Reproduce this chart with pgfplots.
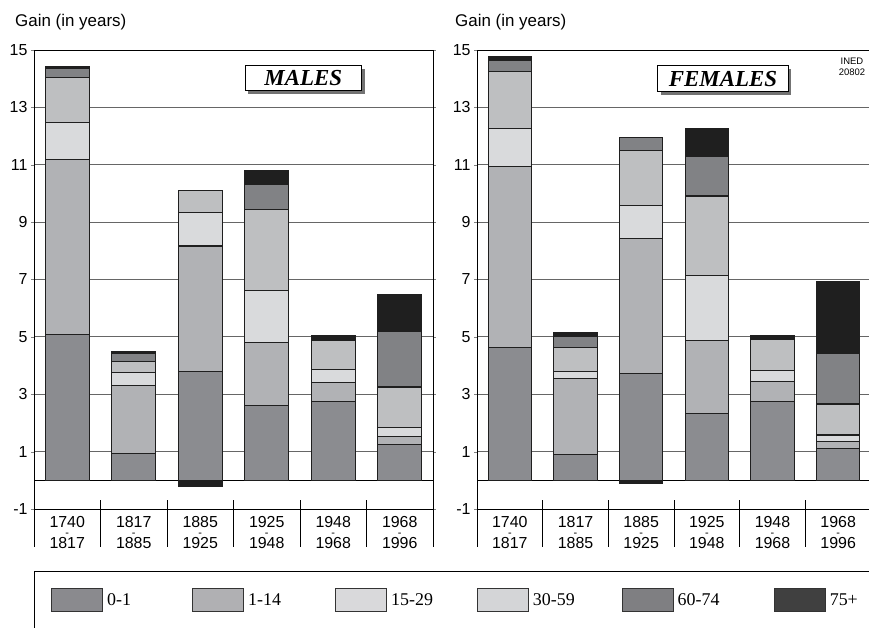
\documentclass[border=0pt]{standalone}
\usepackage{pgfplots}
\pgfplotsset{compat=1.18}
\usepackage{fontspec}
\setmainfont{Liberation Sans}
\newfontfamily\timesf{Liberation Serif}

% bar fills
\definecolor{cA}{HTML}{8B8C90}
\definecolor{cB}{HTML}{B1B2B5}
\definecolor{cC}{HTML}{D9DADC}
\definecolor{cD}{HTML}{BEBFC1}
\definecolor{cE}{HTML}{818285}
\definecolor{cF}{HTML}{1F1F1F}
% legend fills
\definecolor{lA}{HTML}{8A8A8E}
\definecolor{lB}{HTML}{B0B0B3}
\definecolor{lC}{HTML}{D9D9DB}
\definecolor{lD}{HTML}{D4D5D7}
\definecolor{lE}{HTML}{7F7F82}
\definecolor{lF}{HTML}{404040}

\newcommand\yr[1]{\ooalign{\hfil\raisebox{12.5bp}{\fontsize{11}{11}\selectfont -}\hfil\cr#1\cr}}

\pgfplotsset{
  gainaxis/.style={
    scale only axis, height=459bp, anchor=south west,
    xmin=-0.5, xmax=5.5, ymin=-1, ymax=15,
    xtick={0,...,5},
    xticklabels={{1740\\\yr{1817}},{1817\\\yr{1885}},{1885\\\yr{1925}},
                 {1925\\\yr{1948}},{1948\\\yr{1968}},{1968\\\yr{1996}}},
    x tick style={draw=none},
    xticklabel style={align=center, font=\fontsize{16}{21}\selectfont, yshift=-1bp},
    ytick={-1,1,...,15}, yticklabels={-1,1,3,5,7,9,11,13,15},
    yticklabel style={font=\fontsize{16}{16}\selectfont},
    tick align=outside, major tick length=3bp,
    ymajorgrids, grid style={black!60, line width=0.8bp},
    extra y ticks={0}, extra y tick labels={},
    extra y tick style={grid style={black, line width=1.4bp}, major tick length=0pt},
    axis line style={line width=0.9bp},
    clip=false,
  },
  seg/.style={ybar, bar width=0.66, bar shift=0pt, fill=#1,
    draw=black!88, line width=1.2bp},
  legbox/.style={legend image code/.code={
    \draw[fill=#1, draw=black!80, line width=0.8bp] (0bp,-11.5bp) rectangle (51bp,11.5bp);
    \path[draw=none, fill=none] (0bp,0bp) rectangle (55.5bp,0.1bp);}},
}

\begin{document}
\begin{tikzpicture}

% ---- males (cumulative tops, drawn from the top segment down)
\begin{axis}[gainaxis, at={(34bp,119bp)}, width=399bp,
    legend columns=6, legend cell align=left,
    legend style={at={(0.0426,-0.1983)}, anchor=west, draw=none, fill=none,
      inner sep=0pt, column sep=0pt, nodes={inner sep=0pt},
      font=\timesf\fontsize{18}{18}\selectfont}]
\addplot[seg=cF, forget plot] coordinates {(0,14.43) (1,4.48) (2,10.09) (3,10.78) (4,5.04) (5,6.47)};
\addplot[seg=cE, forget plot] coordinates {(0,14.35) (1,4.41) (2,10.09) (3,10.32) (4,4.86) (5,5.19)};
\addplot[seg=cD, forget plot] coordinates {(0,14.04) (1,4.14) (2,10.09) (3,9.43) (4,4.86) (5,3.25)};
\addplot[seg=cC, forget plot] coordinates {(0,12.46) (1,3.75) (2,9.33) (3,6.62) (4,3.87) (5,1.83)};
\addplot[seg=cB, forget plot] coordinates {(0,11.17) (1,3.30) (2,8.17) (3,4.79) (4,3.40) (5,1.54)};
\addplot[seg=cA, forget plot] coordinates {(0,5.08) (1,0.94) (2,3.80) (3,2.62) (4,2.74) (5,1.25)};
\addplot[seg=cF, forget plot] coordinates {(2,-0.22)};

\addlegendimage{legbox=lA}
\addlegendentry{\makebox[85.2bp][l]{0-1}}
\addlegendimage{legbox=lB}
\addlegendentry{\makebox[87.1bp][l]{1-14}}
\addlegendimage{legbox=lC}
\addlegendentry{\makebox[85.9bp][l]{15-29}}
\addlegendimage{legbox=lD}
\addlegendentry{\makebox[88.8bp][l]{30-59}}
\addlegendimage{legbox=lE}
\addlegendentry{\makebox[96.2bp][l]{60-74}}
\addlegendimage{legbox=lF}
\addlegendentry{\makebox[40bp][l]{75+}}

\pgfplotsinvokeforeach{0.5,1.5,2.5,3.5,4.5}{
  \draw[line width=0.8bp] (axis cs:#1,-0.69) -- ([yshift=-38bp]axis cs:#1,-1);}
\draw[line width=0.9bp] (axis cs:-0.5,-1) -- ([yshift=-38bp]axis cs:-0.5,-1);
\draw[line width=0.9bp] (axis cs:5.5,-1) -- ([yshift=-38bp]axis cs:5.5,-1);
\end{axis}

% ---- females
\begin{axis}[gainaxis, at={(477bp,119bp)}, width=394bp]
\addplot[seg=cF] coordinates {(0,14.78) (1,5.15) (2,11.96) (3,12.25) (4,5.03) (5,6.91)};
\addplot[seg=cE] coordinates {(0,14.64) (1,5.02) (2,11.96) (3,11.30) (4,4.91) (5,4.44)};
\addplot[seg=cD] coordinates {(0,14.24) (1,4.64) (2,11.51) (3,9.91) (4,4.91) (5,2.66)};
\addplot[seg=cC] coordinates {(0,12.25) (1,3.79) (2,9.57) (3,7.15) (4,3.84) (5,1.58)};
\addplot[seg=cB] coordinates {(0,10.95) (1,3.55) (2,8.43) (3,4.88) (4,3.45) (5,1.35)};
\addplot[seg=cA] coordinates {(0,4.64) (1,0.91) (2,3.73) (3,2.32) (4,2.75) (5,1.11)};
\addplot[seg=cF] coordinates {(2,-0.12)};

\pgfplotsinvokeforeach{0.5,1.5,2.5,3.5,4.5}{
  \draw[line width=0.8bp] (axis cs:#1,-0.69) -- ([yshift=-38bp]axis cs:#1,-1);}
\draw[line width=0.9bp] (axis cs:-0.5,-1) -- ([yshift=-38bp]axis cs:-0.5,-1);
\end{axis}

% titles and notes
\node[anchor=base west, font=\fontsize{17}{17}\selectfont] at (11.7bp,601.3bp) {Gain (in years)};
\node[anchor=base west, font=\fontsize{17}{17}\selectfont] at (451.7bp,601.3bp) {Gain (in years)};
\node[align=center, font=\fontsize{9.5}{11.5}\selectfont] at (852bp,561bp) {INED\\20802};

\fill[black!55] (248bp,534.3bp) rectangle (364.7bp,559.3bp);
\node[draw, fill=white, line width=0.8bp, minimum width=116.7bp, minimum height=25bp,
  inner sep=0pt, font=\timesf\bfseries\itshape\fontsize{23}{23}\selectfont]
  at (303.3bp,549.8bp) {MALES};
\fill[black!55] (660.7bp,533.3bp) rectangle (791.3bp,559.3bp);
\node[draw, fill=white, line width=0.8bp, minimum width=130.6bp, minimum height=26bp,
  inner sep=0pt, font=\timesf\bfseries\itshape\fontsize{23}{23}\selectfont]
  at (723bp,549.3bp) {FEMALES};

% legend frame (cut by the page edge)
\draw[line width=0.9bp] (34.3bp,-5bp) -- (34.3bp,56.3bp) -- (880bp,56.3bp);

\pgfresetboundingbox
\useasboundingbox (0,0) rectangle (869bp,628bp);
\end{tikzpicture}
\end{document}
